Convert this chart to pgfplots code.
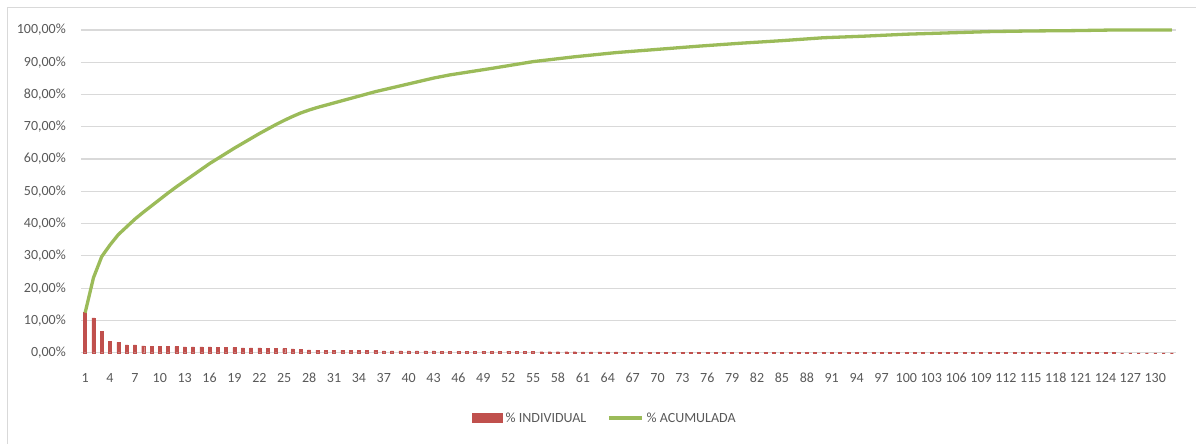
\documentclass[border=0pt]{standalone}
\usepackage{fontspec}
\setmainfont{Carlito}
\usepackage{pgfplots}
\usepackage{pgfplotstable}
\pgfplotsset{compat=1.18}
\definecolor{barred}{HTML}{C0504D}
\definecolor{linegreen}{HTML}{9BBB59}
\definecolor{gridgray}{HTML}{D9D9D9}
\definecolor{txtgray}{HTML}{595959}
\definecolor{bordergray}{HTML}{D9D9D9}

\pgfplotstableread{
k ind acc
1 12.4 12.4
2 10.8 23.2
3 6.6 29.8
4 3.6 33.4
5 3.2 36.6
6 2.4 39.0
7 2.4 41.4
8 2.1 43.5
9 2.0 45.5
10 2.0 47.5
11 2.0 49.5
12 1.9 51.4
13 1.8 53.2
14 1.8 55.0
15 1.8 56.8
16 1.8 58.6
17 1.6 60.2
18 1.6 61.8
19 1.6 63.4
20 1.5 64.9
21 1.5 66.4
22 1.5 67.9
23 1.4 69.3
24 1.4 70.7
25 1.3 72.0
26 1.2 73.2
27 1.1 74.3
28 0.9 75.2
29 0.8 76.0
30 0.7 76.7
31 0.7 77.4
32 0.7 78.1
33 0.7 78.8
34 0.7 79.5
35 0.7 80.2
36 0.7 80.9
37 0.6 81.5
38 0.6 82.1
39 0.6 82.7
40 0.6 83.3
41 0.6 83.9
42 0.6 84.5
43 0.6 85.1
44 0.5 85.6
45 0.5 86.1
46 0.4 86.5
47 0.4 86.9
48 0.4 87.3
49 0.4 87.7
50 0.4 88.1
51 0.42 88.52
52 0.42 88.94
53 0.42 89.36
54 0.42 89.78
55 0.42 90.20
56 0.3 90.5
57 0.3 90.8
58 0.3 91.1
59 0.3 91.4
60 0.3 91.7
61 0.26 91.96
62 0.26 92.22
63 0.26 92.48
64 0.26 92.74
65 0.26 93.00
66 0.2 93.2
67 0.2 93.4
68 0.2 93.6
69 0.2 93.8
70 0.2 94.0
71 0.2 94.2
72 0.2 94.4
73 0.2 94.6
74 0.2 94.8
75 0.2 95.0
76 0.18 95.18
77 0.18 95.36
78 0.18 95.54
79 0.18 95.72
80 0.18 95.90
81 0.16 96.06
82 0.16 96.22
83 0.16 96.38
84 0.16 96.54
85 0.16 96.70
86 0.18 96.88
87 0.18 97.06
88 0.18 97.24
89 0.18 97.42
90 0.18 97.60
91 0.1 97.70
92 0.1 97.80
93 0.1 97.90
94 0.1 98.00
95 0.1 98.10
96 0.12 98.22
97 0.12 98.34
98 0.12 98.46
99 0.12 98.58
100 0.12 98.70
101 0.08 98.78
102 0.08 98.86
103 0.08 98.94
104 0.08 99.02
105 0.08 99.10
106 0.08 99.18
107 0.08 99.26
108 0.08 99.34
109 0.08 99.42
110 0.08 99.50
111 0.04 99.54
112 0.04 99.58
113 0.04 99.62
114 0.04 99.66
115 0.04 99.70
116 0.02 99.72
117 0.02 99.74
118 0.02 99.76
119 0.02 99.78
120 0.02 99.80
121 0.04 99.84
122 0.04 99.88
123 0.04 99.92
124 0.04 99.96
125 0.04 100.00
126 0.0 100.00
127 0.0 100.00
128 0.0 100.00
129 0.0 100.00
130 0.0 100.00
131 0.0 100.00
132 0.0 100.00
}\datatable

\begin{document}
\begin{tikzpicture}
\useasboundingbox (-81pt,-91.3pt) rectangle (1115pt,352.7pt);
\draw[bordergray, line width=1pt] (-73pt,-91.3pt) -- (-73pt,344.7pt) -- (1115pt,344.7pt);
\begin{axis}[
  at={(0pt,0pt)}, anchor=south west,
  scale only axis,
  width=1095pt, height=322.7pt,
  xmin=0.5, xmax=132.5,
  ymin=0, ymax=100,
  axis line style={draw=none},
  font=\fontsize{14}{16}\selectfont,
  /pgf/number format/assume math mode=true,
  xtick={1,4,...,130},
  ytick={0,10,...,100},
  yticklabels={{0,00\%},{10,00\%},{20,00\%},{30,00\%},{40,00\%},{50,00\%},{60,00\%},{70,00\%},{80,00\%},{90,00\%},{100,00\%}},
  major tick length=0pt,
  tick label style={text=txtgray},
  yticklabel style={anchor=east, inner sep=0pt, xshift=-15pt},
  xticklabel style={anchor=center, inner sep=0pt, yshift=-25pt},
  ymajorgrids,
  grid style={gridgray, line width=1.2pt},
  clip=false,
  legend columns=2,
  legend style={at={(axis description cs:0.479,-0.2024)}, anchor=center,
    draw=none, fill=none, text=txtgray, font=\fontsize{14}{16}\selectfont,
    /tikz/every even column/.append style={column sep=18pt},
    /tikz/every odd column/.append style={column sep=0pt},
    legend cell align=left, inner sep=0pt,
    nodes={inner xsep=3pt}},
]
\addplot[ybar, bar width=3pt, fill=barred, draw=barred, line width=0.4pt,
  legend image code/.code={\fill[barred] (0pt,-4.5pt) rectangle (30pt,4.5pt);}]
  table[x=k, y=ind] {\datatable};
\addlegendentry{\% INDIVIDUAL}
\addplot[linegreen, line width=3.3pt, line join=round, mark=none,
  legend image code/.code={\draw[linegreen, line width=3.3pt] (0pt,0pt) -- (33pt,0pt);}]
  table[x=k, y=acc] {\datatable};
\addlegendentry{\% ACUMULADA}
\end{axis}
\end{tikzpicture}
\end{document}
